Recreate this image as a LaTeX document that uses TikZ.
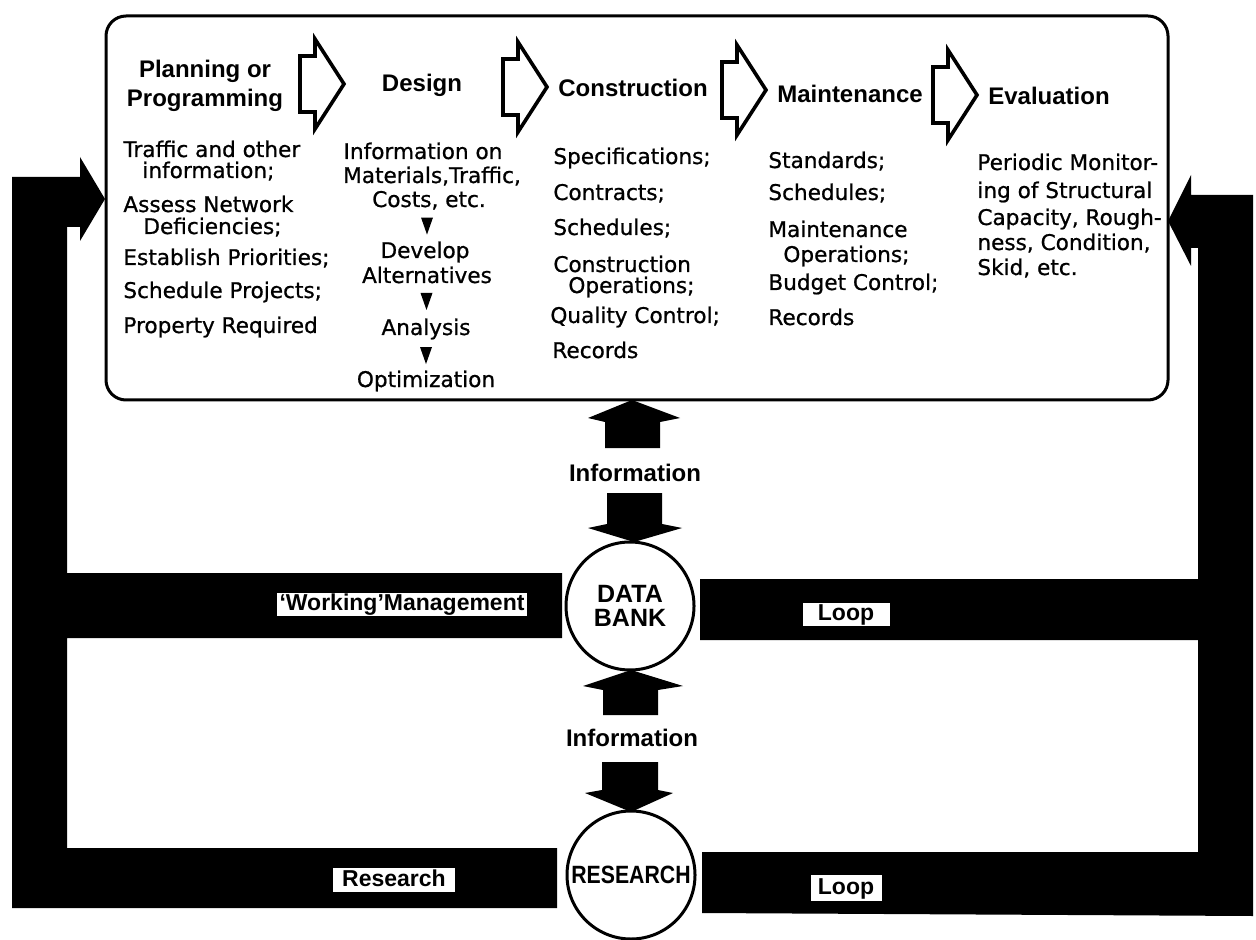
\documentclass[tikz,border=0pt]{standalone}
\usepackage{fontspec}
\newfontfamily\headfont{Liberation Sans}
\newfontfamily\bodyfont{DejaVu Sans}[FakeBold=0.8]
\usetikzlibrary{calc}

% hollow block arrow between two stage headings: #1 = left end, #2 = centre line
\newcommand\stagearrow[2]{%
  \draw[outlinearrow] (#1,#2-28) -- ++(15,0) -- ++(0,-17) -- ++(29,45)
    -- ++(-29,45) -- ++(0,-17) -- ++(-15,0) -- cycle;}

\tikzset{
  head/.style={font=\headfont\bfseries\fontsize{12}{14}\selectfont, inner sep=0pt, anchor=base},
  body/.style={font=\bodyfont\fontsize{10.8}{12}\selectfont, inner sep=0pt, anchor=base west},
  bodyc/.style={body, anchor=base},
  outlinearrow/.style={draw=black, line width=1.8pt, fill=white, line join=miter},
  bar/.style={fill=black, draw=none},
  hub/.style={circle, draw=black, line width=1.5pt, fill=white, minimum size=64pt,
    inner sep=0pt, align=center,
    font=\headfont\bfseries\fontsize{12.5}{12}\selectfont},
  flow/.style={font=\headfont\bfseries\fontsize{12}{14}\selectfont, inner sep=0pt},
  tag/.style={fill=white, inner sep=0pt, font=\headfont\bfseries\fontsize{11.5}{12}\selectfont,
    text height=8.3pt, text depth=2.3pt},
  panel/.style={draw=black, line width=1.5pt, rounded corners=10pt, inner sep=0pt},
}

\begin{document}
\begin{tikzpicture}[x=0.5pt, y=-0.5pt]
\useasboundingbox (0,0) rectangle (1256,940);

% ---- management and research loops (thick black bands) ----
\fill[bar] (12,908) -- (12,177) -- (80,177) -- (80,157) -- (105,199) -- (80,241)
  -- (80,227) -- (67,227) -- (67,573) -- (562,573) -- (562,638) -- (67,638)
  -- (67,848) -- (557,848) -- (557,908) -- cycle;
\fill[bar] (1253,916) -- (1253,195) -- (1191,195) -- (1191,175) -- (1168,221)
  -- (1191,266) -- (1191,248) -- (1198,248) -- (1198,579) -- (700,579)
  -- (700,640) -- (1198,640) -- (1198,852) -- (702,852) -- (702,913) -- cycle;

% ---- the pavement management panel ----
\node[panel, minimum width=531pt, minimum height=192pt] (box) at (637,208) {};

% stage headings
\node[head] (h1a) at (205,78) {Planning or};
\node[head] (h1b) at (205,107) {Programming};
\node[head] (h2) at (422,92) {Design};
\node[head] (h3) at (633,97) {Construction};
\node[head] (h4) at (850,103) {Maintenance};
\node[head] (h5) at (1049,105) {Evaluation};

\stagearrow{300}{84}
\stagearrow{503}{87}
\stagearrow{722}{90}
\stagearrow{933}{95}

% planning column
\node[body] (p1) at (123,157) {Traffic and other};
\node[body] (p2) at (142,178) {information;};
\node[body] (p3) at (123,212) {Assess Network};
\node[body] (p4) at (143,234) {Deficiencies;};
\node[body] (p5) at (123,265) {Establish Priorities;};
\node[body] (p6) at (123,298) {Schedule Projects;};
\node[body] (p7) at (123,333) {Property Required};

% design column
\node[bodyc] (d1) at (423,159) {Information on};
\node[bodyc] (d2) at (432,183) {Materials,Traffic,};
\node[bodyc] (d3) at (429,207) {Costs, etc.};
\node[bodyc] (d4) at (425,258) {Develop};
\node[bodyc] (d5) at (427,283) {Alternatives};
\node[bodyc] (d6) at (426,335) {Analysis};
\node[bodyc] (d7) at (426,387) {Optimization};
\foreach \a/\b in {d3/d4, d5/d6, d6/d7}
  \fill ($(\a.south)!0.5!(\b.north)$) ++(-6,-8) -- ++(12,0) -- ++(-6,17) -- cycle;

% construction column
\node[body] (s1) at (553,164) {Specifications;};
\node[body] (s2) at (553,200) {Contracts;};
\node[body] (s3) at (553,235) {Schedules;};
\node[body] (s4) at (553,272) {Construction};
\node[body] (s5) at (568,293) {Operations;};
\node[body] (s6) at (550,323) {Quality Control;};
\node[body] (s7) at (552,358) {Records};

% maintenance column
\node[body] (m1) at (768,168) {Standards;};
\node[body] (m2) at (768,200) {Schedules;};
\node[body] (m3) at (768,237) {Maintenance};
\node[body] (m4) at (783,262) {Operations;};
\node[body] (m5) at (768,290) {Budget Control;};
\node[body] (m6) at (768,325) {Records};

% evaluation column
\node[body] (e1) at (977,170) {Periodic Monitor-};
\node[body] (e2) at (977,198) {ing of Structural};
\node[body] (e3) at (977,225) {Capacity, Rough-};
\node[body] (e4) at (977,250) {ness, Condition,};
\node[body] (e5) at (977,275) {Skid, etc.};

% ---- information flows between panel, data bank and research ----
\fill (605,448) -- (605,422) -- (588,418) -- (632,400) -- (680,418) -- (660,422) -- (660,448) -- cycle;
\node[flow] (info1) at (635,473) {Information};
\fill (607,493) -- (662,493) -- (662,524) -- (682,528) -- (634,542) -- (588,528) -- (607,524) -- cycle;

\fill (603,715) -- (603,690) -- (583,686) -- (631,670) -- (683,686) -- (658,690) -- (658,715) -- cycle;
\node[flow] (info2) at (632,738) {Information};
\fill (602,762) -- (658,762) -- (658,790) -- (673,793) -- (631,812) -- (585,793) -- (602,790) -- cycle;

\node[hub] (db) at (630,606) {DATA\\BANK};
\node[hub] (res) at (631,875) {\scalebox{0.85}[1]{RESEARCH}};

% loop captions
\node[tag, minimum width=125pt, minimum height=11.5pt] (wm) at (402,604) {‘Working’Management};
\node[tag, minimum width=43.5pt, minimum height=11.5pt] (lp1) at (846,614) {Loop};
\node[tag, minimum width=61pt, minimum height=12pt] (rs) at (394,880) {Research};
\node[tag, minimum width=35.5pt, minimum height=13pt] (lp2) at (846,888) {Loop};
\end{tikzpicture}
\end{document}
